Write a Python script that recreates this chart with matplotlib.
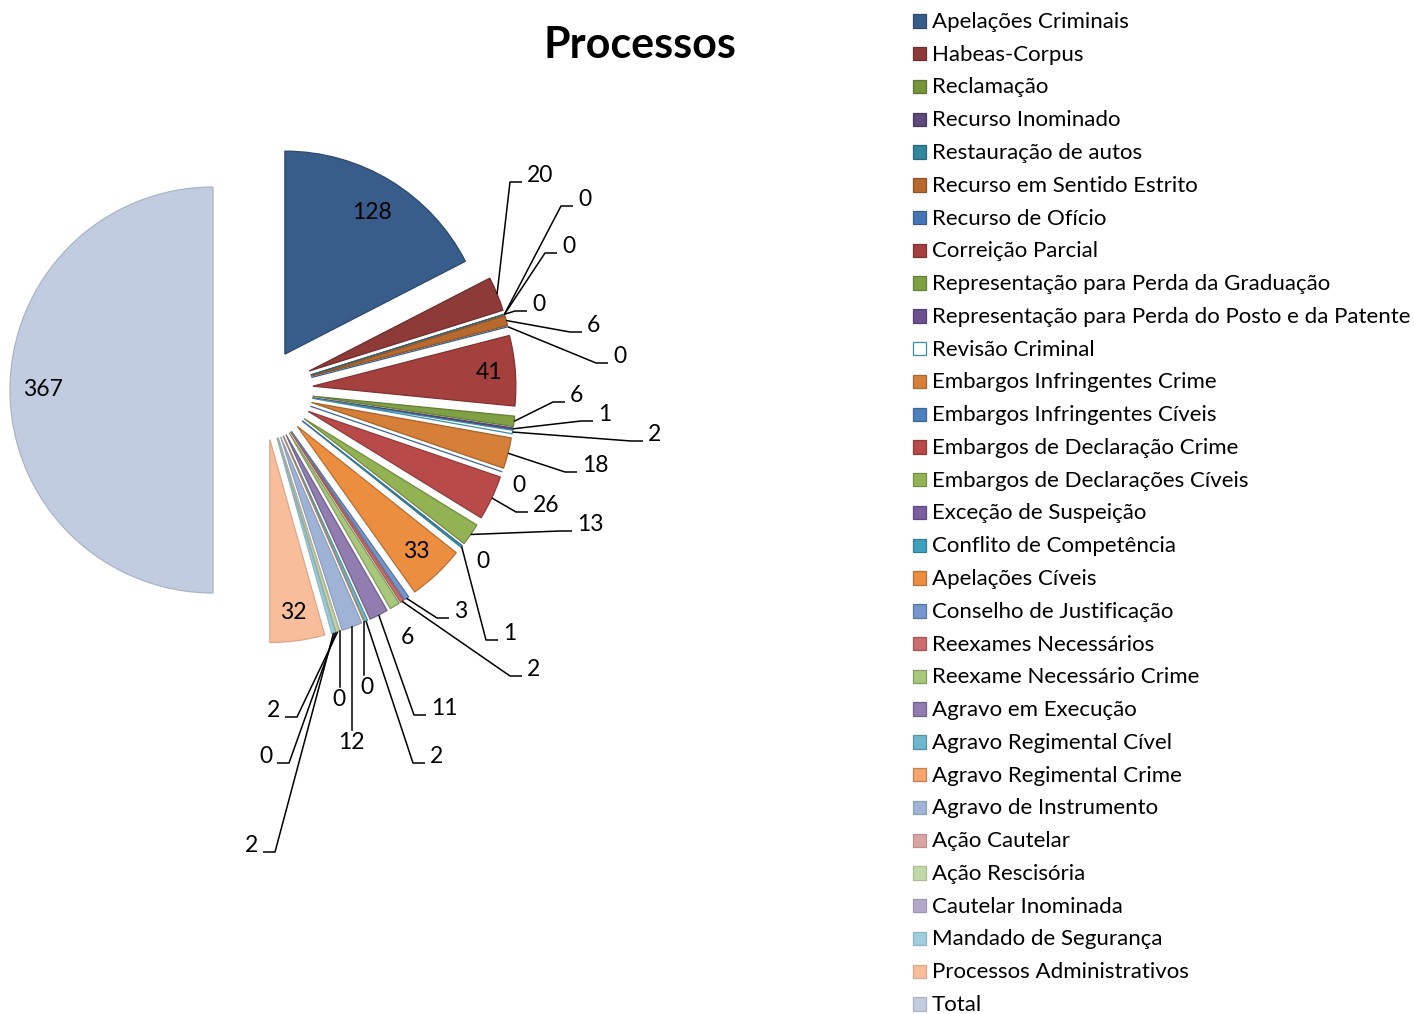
import matplotlib
matplotlib.use("Agg")
import matplotlib.pyplot as plt
import numpy as np
from matplotlib.patches import Rectangle
from matplotlib.colors import to_rgb

plt.rcParams['font.family'] = ['Lato', 'DejaVu Sans']

# ---- data -------------------------------------------------------------
categories = [
    "Apelações Criminais", "Habeas-Corpus", "Reclamação", "Recurso Inominado",
    "Restauração de autos", "Recurso em Sentido Estrito", "Recurso de Ofício",
    "Correição Parcial", "Representação para Perda da Graduação",
    "Representação para Perda do Posto e da Patente", "Revisão Criminal",
    "Embargos Infringentes Crime", "Embargos Infringentes Cíveis",
    "Embargos de Declaração Crime", "Embargos de Declarações Cíveis",
    "Exceção de Suspeição", "Conflito de Competência", "Apelações Cíveis",
    "Conselho de Justificação", "Reexames Necessários",
    "Reexame Necessário Crime", "Agravo em Execução", "Agravo Regimental Cível",
    "Agravo Regimental Crime", "Agravo de Instrumento", "Ação Cautelar",
    "Ação Rescisória", "Cautelar Inominada", "Mandado de Segurança",
    "Processos Administrativos", "Total",
]
values = [128, 20, 0, 0, 0, 6, 0, 41, 6, 1, 2, 18, 0, 26, 13, 0, 1, 33,
          3, 2, 6, 11, 2, 0, 12, 0, 2, 0, 2, 32, 367]

colors = [
    "#385D8A", "#8E3A38", "#77933C", "#5F497A", "#31859C", "#B7692E",
    "#4677B4", "#A4403E", "#80A044", "#6A5190", "#FFFFFF", "#D57F38",
    "#4D80BE", "#B84B49", "#93B254", "#7A5EA0", "#3FA1BD", "#EB8E40",
    "#7496CC", "#CB706E", "#A8C67C", "#917DB0", "#6DB8CE", "#F7A56C",
    "#9FB3D6", "#D9A3A3", "#C1D7A5", "#B3A8C8", "#A0CEDC", "#F8BE9C",
    "#C1CCE0",
]

# ---- layout (pixel units, y measured downward) -------------------------
W, H = 1414, 1014
PIE_C = (263, 390)
R = 203
# slice offsets from the pie centre, in pixels
explode = [42] + [50] * (len(values) - 1)

# labels drawn inside their slice
inside = {0: 0.82, 7: 0.87, 17: 0.85, 29: 0.86, 30: 0.84}
# leader-line labels: index -> (anchor x, anchor y, side)
elbow = {
    1: (522, 182, 1), 2: (573, 206, 1), 3: (557, 253, 1), 4: (527, 311, 1),
    5: (582, 332, 1), 6: (608, 363, 1), 8: (565, 402, 1), 9: (593, 421, 1),
    10: (643, 441, 1), 11: (577, 472, 1), 13: (528, 512, 1),
    14: (572, 531, 1), 16: (498, 640, 1), 18: (449, 618, 1),
    19: (522, 676, 1), 21: (426, 715, 1), 22: (425, 763, 1),
    26: (285, 717, -1), 27: (277, 763, -1), 28: (263, 852, -1),
}
# labels below a vertical leader: index -> (text x, text top y)
drop = {23: (367, 677), 24: (351, 732), 25: (339, 689)}
# labels without a leader: index -> (text x, text y center)
free = {12: (519, 485), 15: (483, 561), 20: (407, 637)}


def P(x, y):
    return x, H - y


def darker(c, f):
    return tuple(np.clip(np.array(to_rgb(c)) * f, 0, 1))


fig = plt.figure(figsize=(W / 100, H / 100), dpi=100)
ax = fig.add_axes([0, 0, 1, 1])

wedges, _ = ax.pie(values, explode=explode, colors=colors, startangle=90,
                   counterclock=False, center=P(*PIE_C), radius=R,
                   wedgeprops=dict(linewidth=0.9), frame=True)

edge_colors = []
for i, w in enumerate(wedges):
    c = colors[i]
    if c.upper() == "#FFFFFF":
        ec = "#3B8EA6"
    else:
        lum = np.mean(to_rgb(c))
        ec = darker(c, 0.88 if lum > 0.7 else 0.78)
    edge_colors.append(ec)
    w.set_edgecolor(ec)

LBL = 16.5
for i, w in enumerate(wedges):
    th = np.deg2rad((w.theta1 + w.theta2) / 2)
    cx, cy = w.center
    d = np.array([np.cos(th), np.sin(th)])
    tip = np.array([cx, cy]) + R * d
    txt = str(values[i])
    if i in inside:
        p = np.array([cx, cy]) + inside[i] * R * d
        ax.text(p[0], p[1], txt, fontsize=LBL, ha="center", va="center")
    elif i in elbow:
        axp, ayp, side = elbow[i]
        ex, ey = P(axp, ayp)
        ax.plot([tip[0], ex - side * 12, ex], [tip[1], ey, ey],
                color="black", lw=1.1, solid_capstyle="butt")
        ax.text(ex + side * 5, ey, txt, fontsize=LBL,
                ha="left" if side > 0 else "right", va="baseline")
    elif i in drop:
        tx, ty = P(*drop[i])
        ax.plot([tip[0], tip[0]], [tip[1], ty + 2], color="black", lw=1.1)
        ax.text(tx, ty, txt, fontsize=LBL, ha="center", va="top")
    elif i in free:
        tx, ty = P(*free[i])
        ax.text(tx, ty, txt, fontsize=LBL, ha="center", va="center")

# title
ax.text(*P(640, 58), "Processos", fontsize=31, fontweight="bold",
        ha="center", va="baseline")

# legend
ROW0, STEP = 21, 32.77
for i, name in enumerate(categories):
    yc = ROW0 + i * STEP
    x0, y0 = P(912.5, yc + 6.7)
    ax.add_patch(Rectangle((x0, y0), 13.5, 13.4, facecolor=colors[i],
                           edgecolor=edge_colors[i], lw=0.9))
    ax.text(*P(932, yc + 6.9), name, fontsize=16.0, ha="left",
            va="baseline")

ax.set_xlim(0, W)
ax.set_ylim(0, H)
ax.set_aspect("auto")
ax.axis("off")

fig.savefig("out.png", dpi=100, facecolor="white")
